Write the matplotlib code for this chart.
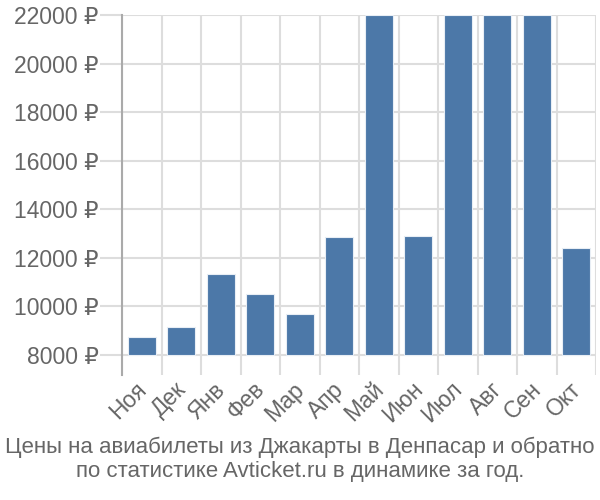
import matplotlib
matplotlib.use('Agg')
import matplotlib.pyplot as plt
import matplotlib.transforms as mtransforms

plt.rcParams['font.family'] = ['Liberation Sans', 'DejaVu Sans']

# Данные
months = ['Ноя', 'Дек', 'Янв', 'Фев', 'Мар', 'Апр', 'Май', 'Июн', 'Июл', 'Авг', 'Сен', 'Окт']
prices = [8750, 9150, 11350, 10500, 9700, 12850, 22000, 12900, 22000, 22000, 22000, 12400]
yticks = [8000, 10000, 12000, 14000, 16000, 18000, 20000, 22000]
title = 'Цены на авиабилеты из Джакарты в Денпасар и обратно\nпо статистике Avticket.ru в динамике за год.'

base = 8000
bar_color = '#4c78a8'
grid_color = '#dddddd'
text_color = '#666666'

fig = plt.figure(figsize=(6, 5), dpi=100)
ax = fig.add_axes([122 / 600, 1 - 375 / 500, 474 / 600, 360 / 500])

x = list(range(len(months)))
ax.bar(x, [p - base for p in prices], bottom=base, width=0.72,
       color=bar_color, edgecolor='#e8eef5', linewidth=0.8, zorder=3)

# сетка
for yv in yticks:
    ax.axhline(yv, color=grid_color, linewidth=1.5, zorder=1)
for i in range(len(months) + 1):
    ax.axvline(i - 0.5, color=grid_color, linewidth=1.5, zorder=1)

ax.set_xlim(-0.5, len(months) - 0.5)
ax.set_ylim(base - 823, 22000)

ax.set_yticks(yticks)
ax.set_yticklabels([f'{v} ₽' for v in yticks])
ax.tick_params(axis='y', length=16, width=1.5, color=grid_color,
               labelsize=16.5, labelcolor=text_color, pad=1)

ax.set_xticks(x)
ax.set_xticklabels(months, rotation=45, ha='right', va='top', rotation_mode='anchor')
ax.tick_params(axis='x', length=0, labelsize=16.5, labelcolor=text_color, pad=2)
shift = mtransforms.ScaledTranslation(-7 / 100, 0, fig.dpi_scale_trans)
for lbl in ax.get_xticklabels():
    lbl.set_transform(lbl.get_transform() + shift)

for s in ['top', 'right', 'bottom']:
    ax.spines[s].set_visible(False)
ax.spines['left'].set_color('#aaaaaa')
ax.spines['left'].set_linewidth(1.5)
ax.spines['left'].set_zorder(4)

fig.text(0.5, 1 - 459 / 500, title, ha='center', va='center',
         fontsize=16, color=text_color, linespacing=1.2)

fig.savefig('out.png', dpi=100)
